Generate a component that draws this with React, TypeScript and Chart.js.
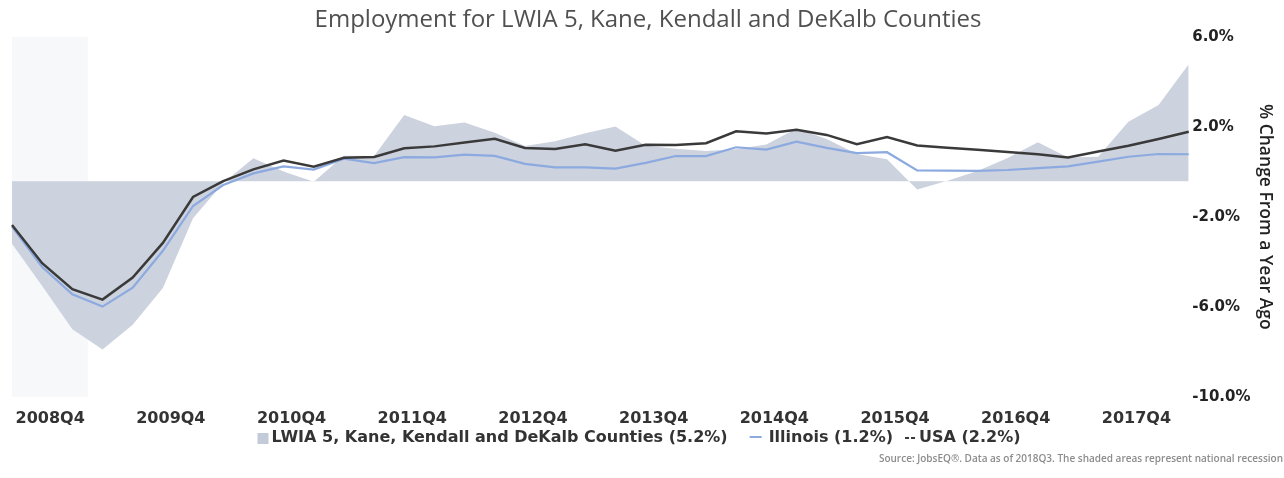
import React, { useEffect, useRef } from 'react';
import { Chart, registerables } from 'chart.js';

Chart.register(...registerables);

// Quarterly categories (x axis)
const quarters = [
  '2008Q3', '2008Q4',
  '2009Q1', '2009Q2', '2009Q3', '2009Q4',
  '2010Q1', '2010Q2', '2010Q3', '2010Q4',
  '2011Q1', '2011Q2', '2011Q3', '2011Q4',
  '2012Q1', '2012Q2', '2012Q3', '2012Q4',
  '2013Q1', '2013Q2', '2013Q3', '2013Q4',
  '2014Q1', '2014Q2', '2014Q3', '2014Q4',
  '2015Q1', '2015Q2', '2015Q3', '2015Q4',
  '2016Q1', '2016Q2', '2016Q3', '2016Q4',
  '2017Q1', '2017Q2', '2017Q3', '2017Q4',
  '2018Q1', '2018Q2',
];

// % change from a year ago
const lwiaValues = [
  -2.78, -4.66, -6.58, -7.48, -6.38, -4.74, -1.64, -0.08, 1.02, 0.43,
  -0.02, 1.13, 1.12, 2.94, 2.44, 2.61, 2.16, 1.57, 1.78, 2.13,
  2.43, 1.58, 1.44, 1.34, 1.42, 1.63, 2.34, 1.88, 1.21, 0.98,
  -0.37, 0.02, 0.46, 1.03, 1.73, 1.06, 1.09, 2.64, 3.39, 5.2,
];
const illinoisValues = [
  -2.02, -3.81, -5.02, -5.57, -4.73, -3.09, -1.1, -0.17, 0.35, 0.66,
  0.52, 1.0, 0.81, 1.07, 1.06, 1.18, 1.13, 0.77, 0.62, 0.62,
  0.56, 0.82, 1.12, 1.12, 1.51, 1.41, 1.76, 1.48, 1.25, 1.29,
  0.48, 0.47, 0.46, 0.5, 0.58, 0.66, 0.87, 1.09, 1.21, 1.2,
];
const usaValues = [
  -1.94, -3.64, -4.8, -5.26, -4.28, -2.74, -0.7, 0.01, 0.53, 0.92,
  0.65, 1.04, 1.08, 1.47, 1.55, 1.72, 1.89, 1.48, 1.43, 1.64,
  1.36, 1.62, 1.61, 1.69, 2.22, 2.12, 2.29, 2.06, 1.65, 1.96,
  1.59, 1.49, 1.4, 1.3, 1.2, 1.06, 1.32, 1.58, 1.88, 2.2,
];
// 1 = national recession quarter (shaded)
const recessionFlags = [
  1, 1, 1, 0, 0, 0, 0, 0, 0, 0,
  0, 0, 0, 0, 0, 0, 0, 0, 0, 0,
  0, 0, 0, 0, 0, 0, 0, 0, 0, 0,
  0, 0, 0, 0, 0, 0, 0, 0, 0, 0,
];

const seriesNames = ['LWIA 5, Kane, Kendall and DeKalb Counties', 'Illinois', 'USA'];
const yTickValues = [6, 2, -2, -6, -10];

const titleText = 'Employment for LWIA 5, Kane, Kendall and DeKalb Counties';
const axisTitleText = '% Change From a Year Ago';
const sourceText = 'Source: JobsEQ\u00ae. Data as of 2018Q3. The shaded areas represent national recession';

const AREA_COLOR = '#ccd2de';
const IL_COLOR = '#8caae0';
const USA_COLOR = '#3a3a3a';
const RECESSION_COLOR = '#f7f8f9';

const lastOf = (a: number[]) => a[a.length - 1];

const customLegendPlugin = {
  id: 'customLegend',
  afterDraw(chart: any) {
    const ctx = chart.ctx as CanvasRenderingContext2D;
    ctx.save();
    ctx.font = 'bold 16px "DejaVu Sans"';
    ctx.textBaseline = 'middle';
    const y = 438;
    const t1 = `${seriesNames[0]} (${lastOf(lwiaValues).toFixed(1)}%)`;
    const t2 = `${seriesNames[1]} (${lastOf(illinoisValues).toFixed(1)}%)`;
    const t3 = `${seriesNames[2]} (${lastOf(usaValues).toFixed(1)}%)`;
    const w1 = ctx.measureText(t1).width;
    const w2 = ctx.measureText(t2).width;
    const w3 = ctx.measureText(t3).width;
    const total = 11 + 3 + w1 + 22 + 12 + 7 + w2 + 12 + 12 + 2 + w3;
    let x = 639 - total / 2;
    // LWIA square
    ctx.fillStyle = '#c3cad8';
    ctx.fillRect(x, y - 5, 11, 11);
    x += 14;
    ctx.fillStyle = '#333333';
    ctx.textAlign = 'left';
    ctx.fillText(t1, x, y);
    x += w1 + 22;
    // Illinois line
    ctx.strokeStyle = IL_COLOR;
    ctx.lineWidth = 2;
    ctx.beginPath();
    ctx.moveTo(x, y - 1);
    ctx.lineTo(x + 12, y - 1);
    ctx.stroke();
    x += 19;
    ctx.fillText(t2, x, y);
    x += w2 + 12;
    // USA dashed line
    ctx.strokeStyle = USA_COLOR;
    ctx.setLineDash([4, 2]);
    ctx.beginPath();
    ctx.moveTo(x, y);
    ctx.lineTo(x + 12, y);
    ctx.stroke();
    ctx.setLineDash([]);
    x += 14;
    ctx.fillText(t3, x, y);

    // source note
    ctx.font = '600 10px "Open Sans"';
    ctx.fillStyle = '#8c8c8c';
    ctx.textAlign = 'right';
    ctx.fillText(sourceText, 1283, 459);
    ctx.restore();
  },
};

export default function App() {
  const canvasRef = useRef<HTMLCanvasElement | null>(null);

  useEffect(() => {
    const canvas = canvasRef.current;
    if (!canvas) return;
    const chart = new Chart(canvas, {
      type: 'line',
      data: {
        labels: quarters,
        datasets: [
          {
            type: 'bar',
            label: 'Recession',
            data: recessionFlags.map((f) => (f ? [-10, 6] : null)) as any,
            backgroundColor: RECESSION_COLOR,
            borderWidth: 0,
            barPercentage: 1,
            categoryPercentage: 1,
            yAxisID: 'y',
            order: 4,
          } as any,
          {
            label: seriesNames[0],
            data: lwiaValues,
            yAxisID: 'yData',
            fill: 'origin',
            backgroundColor: AREA_COLOR,
            borderColor: 'rgba(0,0,0,0)',
            borderWidth: 0,
            pointRadius: 0,
            tension: 0,
            order: 3,
          },
          {
            label: seriesNames[1],
            data: illinoisValues,
            yAxisID: 'yData',
            fill: false,
            borderColor: IL_COLOR,
            borderWidth: 2.2,
            pointRadius: 0,
            tension: 0,
            order: 2,
          },
          {
            label: seriesNames[2],
            data: usaValues,
            yAxisID: 'yData',
            fill: false,
            borderColor: USA_COLOR,
            borderWidth: 2.5,
            pointRadius: 0,
            tension: 0,
            order: 1,
          },
        ],
      },
      options: {
        responsive: false,
        animation: false,
        devicePixelRatio: 1,
        events: [],
        layout: { padding: { left: 12, right: 0, top: 0, bottom: 38 } },
        plugins: {
          legend: { display: false },
          tooltip: { enabled: false },
          title: {
            display: true,
            text: titleText,
            color: '#505050',
            font: { family: '"Open Sans"', size: 24, weight: 'normal' },
            padding: { top: 6, bottom: 2 },
          },
        },
        scales: {
          x: {
            type: 'category',
            offset: false,
            grid: { display: false, drawTicks: false },
            border: { display: false },
            ticks: {
              autoSkip: false,
              maxRotation: 0,
              minRotation: 0,
              padding: 12,
              labelOffset: 8,
              color: '#333333',
              font: { family: '"DejaVu Sans"', size: 16, weight: 'bold' },
              callback: (_v: any, i: number) => (quarters[i].endsWith('Q4') ? quarters[i] : ''),
            },
          },
          y: {
            type: 'linear',
            position: 'right',
            min: -10,
            max: 6,
            grid: { display: false, drawTicks: false },
            border: { display: false },
            afterBuildTicks: (scale: any) => {
              scale.ticks = yTickValues.map((v) => ({ value: v }));
            },
            ticks: {
              padding: 3.5,
              color: '#222222',
              font: { family: '"DejaVu Sans"', size: 15, weight: 'bold' },
              callback: (v: any) => `${Number(v).toFixed(1)}%`,
            },
            title: {
              display: true,
              text: axisTitleText,
              color: '#222222',
              font: { family: '"Open Sans"', size: 17.5, weight: '600' },
              padding: { top: 9, bottom: 0 },
            },
          },
          yData: {
            type: 'linear',
            display: false,
            min: -9.58,
            max: 6.42,
          },
        },
      } as any,
      plugins: [customLegendPlugin],
    });
    return () => chart.destroy();
  }, []);

  return (
    <div style={{ position: 'absolute', left: 0, top: 0, width: 1284, height: 478, background: '#ffffff' }}>
      <canvas ref={canvasRef} width={1284} height={478} style={{ display: 'block' }} />
    </div>
  );
}
